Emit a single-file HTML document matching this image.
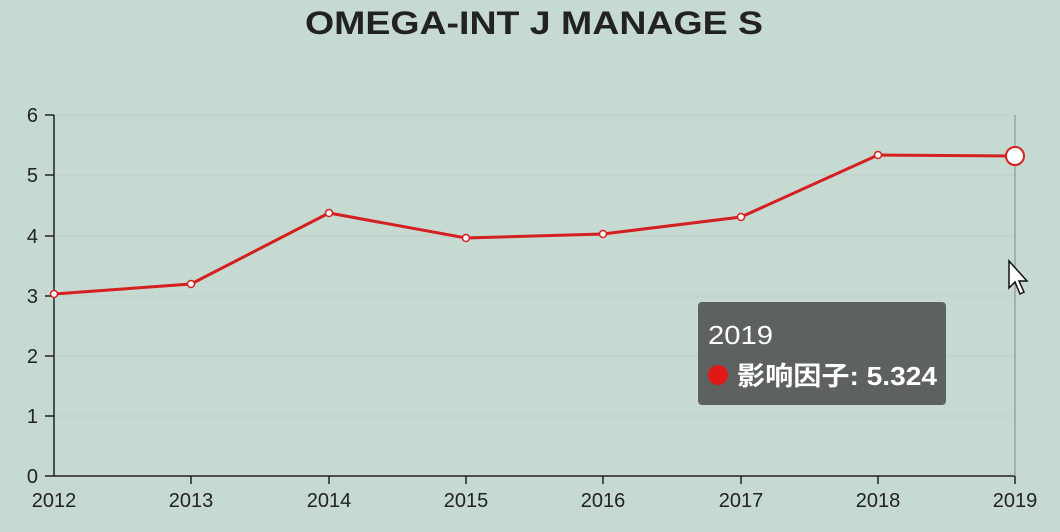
<!DOCTYPE html>
<html><head><meta charset="utf-8"><style>
html,body{margin:0;padding:0;background:#c6dad2;}
svg{display:block;font-family:"Liberation Sans","Noto Sans CJK SC",sans-serif;}
</style></head><body>
<svg width="1060" height="532" viewBox="0 0 1060 532">
<rect width="1060" height="532" fill="#c6dad2"/>
<text x="305" y="34" font-size="32" font-weight="bold" fill="#222" textLength="458" lengthAdjust="spacingAndGlyphs">OMEGA-INT J MANAGE S</text>
<g stroke="#bcd0c8" stroke-width="1">
<line x1="54" x2="1015" y1="115" y2="115"/>
<line x1="54" x2="1015" y1="175" y2="175"/>
<line x1="54" x2="1015" y1="236" y2="236"/>
<line x1="54" x2="1015" y1="296" y2="296"/>
<line x1="54" x2="1015" y1="356" y2="356"/>
<line x1="54" x2="1015" y1="416" y2="416"/>
</g>
<g stroke="#222" stroke-width="1.5">
<line x1="54" x2="54" y1="115" y2="476"/>
<line x1="54" x2="1015" y1="476" y2="476"/>
<line x1="45" x2="54" y1="115" y2="115"/>
<line x1="45" x2="54" y1="175" y2="175"/>
<line x1="45" x2="54" y1="236" y2="236"/>
<line x1="45" x2="54" y1="296" y2="296"/>
<line x1="45" x2="54" y1="356" y2="356"/>
<line x1="45" x2="54" y1="416" y2="416"/>
<line x1="45" x2="54" y1="476" y2="476"/>
<line x1="191" x2="191" y1="476" y2="484"/>
<line x1="329" x2="329" y1="476" y2="484"/>
<line x1="466" x2="466" y1="476" y2="484"/>
<line x1="603" x2="603" y1="476" y2="484"/>
<line x1="741" x2="741" y1="476" y2="484"/>
<line x1="878" x2="878" y1="476" y2="484"/>
<line x1="1015" x2="1015" y1="476" y2="484"/>
</g>
<line x1="1015" x2="1015" y1="115" y2="476" stroke="#888" stroke-width="1"/>
<g font-size="20" fill="#222" text-anchor="end">
<text x="38" y="122">6</text><text x="38" y="182">5</text><text x="38" y="243">4</text>
<text x="38" y="303">3</text><text x="38" y="363">2</text><text x="38" y="423">1</text><text x="38" y="483">0</text>
</g>
<g font-size="20" fill="#222" text-anchor="middle">
<text x="54" y="507">2012</text><text x="191" y="507">2013</text><text x="329" y="507">2014</text>
<text x="466" y="507">2015</text><text x="603" y="507">2016</text><text x="741" y="507">2017</text>
<text x="878" y="507">2018</text><text x="1015" y="507">2019</text>
</g>
<polyline fill="none" stroke="#d42020" stroke-width="3" points="54,294 191,284 329,213 466,238 603,234 741,217 878,155 1015,156"/>
<g fill="#fff" stroke="#d42020" stroke-width="1.5">
<circle cx="54" cy="294" r="3.5"/><circle cx="191" cy="284" r="3.5"/><circle cx="329" cy="213" r="3.5"/>
<circle cx="466" cy="238" r="3.5"/><circle cx="603" cy="234" r="3.5"/><circle cx="741" cy="217" r="3.5"/>
<circle cx="878" cy="155" r="3.5"/>
</g>
<circle cx="1015" cy="156" r="9" fill="#fff" stroke="#d42020" stroke-width="2"/>
<path d="M1009,261 L1009,288 L1015,282 L1020,294 L1024,292 L1019,281 L1027,281 Z" fill="#fff" stroke="#111" stroke-width="1.5"/>
<rect x="698" y="302" width="248" height="103" rx="4" fill="#5d6260"/>
<text x="708" y="344" font-size="26" fill="#fff" textLength="65" lengthAdjust="spacingAndGlyphs">2019</text>
<circle cx="718" cy="375" r="10" fill="#e01818"/>
<text x="737" y="385" font-size="26" fill="#fff" font-weight="bold" textLength="200" lengthAdjust="spacingAndGlyphs">影响因子: 5.324</text>
</svg>
</body></html>
